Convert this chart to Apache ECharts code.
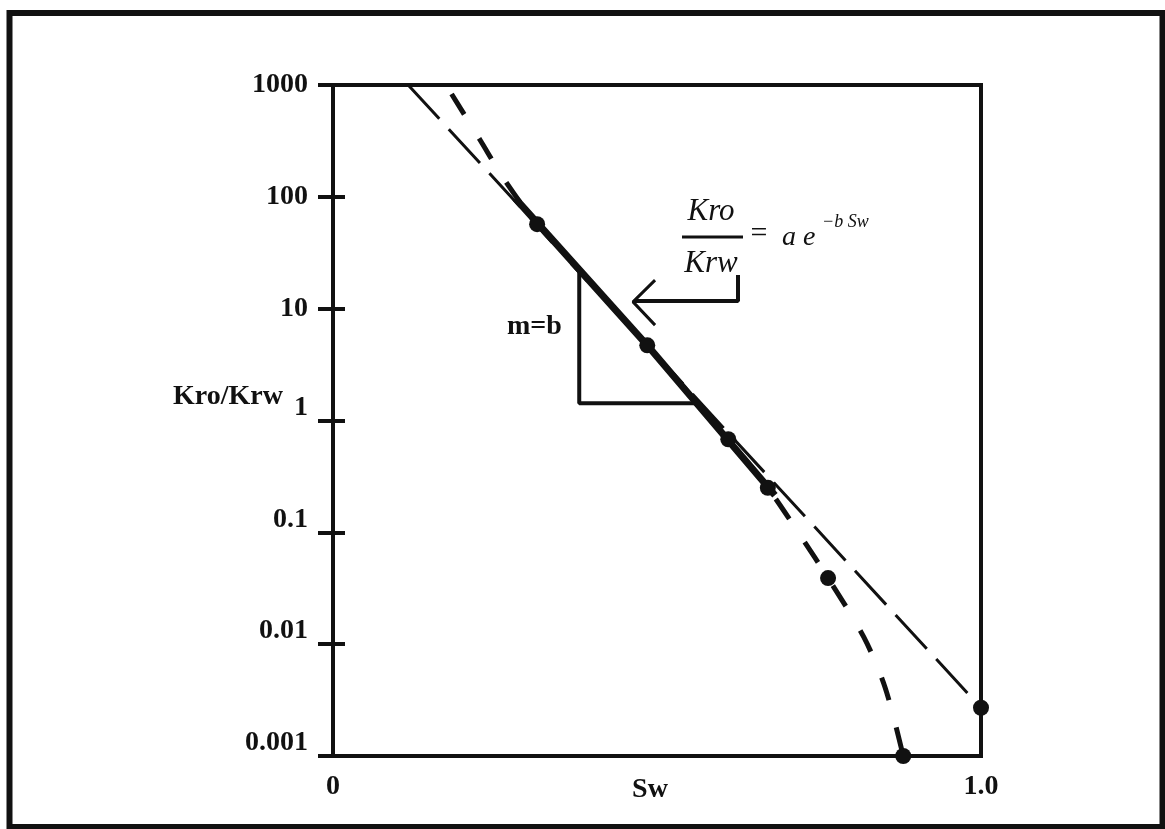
<!DOCTYPE html>
<html>
<head>
<meta charset="utf-8">
<script src="https://cdn.jsdelivr.net/npm/echarts@6/dist/echarts.min.js"></script>
<style>
html,body{margin:0;padding:0;background:#fff;}
#chart{width:1165px;height:829px;}
</style>
</head>
<body>
<div id="chart"></div>
<script>
// ---- data ----
var yTickLabels = ['0.001', '0.01', '0.1', '1', '10', '100', '1000'];
var xTickLabels = ['0', '1.0'];
// measured points (Sw, Kro/Krw)
var measuredSw  = [0.315, 0.485, 0.610, 0.671, 0.764, 0.880, 1.0];
var measuredK   = [57, 4.7, 0.68, 0.25, 0.039, 0.001, 0.0027];
// straight exponential fit (dashed)
var fitSw = [0.116, 1.0];
var fitK  = [1000, 0.0027];
// solid segment of the fit through the middle points
var solidSw = [0.281, 0.485, 0.682];
var solidK  = [97.5, 4.7, 0.215];
// curved trend of the data (dashed)
var curveSw = [0.183, 0.227, 0.265, 0.315, 0.485, 0.610, 0.671, 0.721, 0.764, 0.819, 0.852, 0.880];
var curveK  = [830, 322, 141, 57, 4.7, 0.68, 0.25, 0.094, 0.039, 0.0116, 0.0041, 0.001];
// slope triangle (m = b)
var triSw = [0.380, 0.380, 0.562];
var triK  = [22.1, 1.43, 1.43];
// arrow pointing at the fit line
var arrowSw = [0.625, 0.625, 0.466];
var arrowK  = [20, 11.7, 11.7];
var headSw  = [0.497, 0.463, 0.497];
var headK   = [18, 11.5, 7.13];

function zip(a, b) { return a.map(function (v, i) { return [v, b[i]]; }); }

var INK = '#111';
var SERIF = '"Liberation Serif", "DejaVu Serif", serif';

var chart = echarts.init(document.getElementById('chart'), null, {renderer: 'canvas'});

function yLabel(v) {
  var e = Math.round(Math.log(v) / Math.LN10);
  var s = yTickLabels[e + 3];
  return (e <= 0 ? '{up|' : '{n|') + s + '}';
}

var yCommon = {
  type: 'log', logBase: 10, min: 0.001, max: 1000,
  position: 'left',
  splitLine: {show: false},
  minorTick: {show: false}
};

var option = {
  animation: false,
  backgroundColor: '#fff',
  grid: {
    left: 333, right: 184, top: 85, bottom: 73,
    outerBoundsMode: 'none', containLabel: false,
    show: true, borderColor: INK, borderWidth: 4, backgroundColor: 'transparent'
  },
  xAxis: {
    type: 'value', min: 0, max: 1, interval: 1,
    name: 'Sw', nameLocation: 'middle', nameGap: 20, nameMoveOverlap: false,
    nameTextStyle: {fontFamily: SERIF, fontWeight: 'bold', fontSize: 28, color: INK, padding: [0, 14, 0, 0]},
    axisLine: {lineStyle: {color: INK, width: 4}},
    axisTick: {show: false},
    splitLine: {show: false},
    axisLabel: {
      margin: 17,
      fontFamily: SERIF, fontWeight: 'bold', fontSize: 28, color: INK,
      formatter: function (v) { return v === 0 ? xTickLabels[0] : xTickLabels[1]; }
    }
  },
  yAxis: [
    Object.assign({}, yCommon, {
      axisLine: {show: true, lineStyle: {color: INK, width: 4}},
      axisTick: {show: true, inside: false, length: 15, lineStyle: {color: INK, width: 4}},
      axisLabel: {
        margin: 25,
        formatter: yLabel,
        rich: {
          n:  {fontFamily: SERIF, fontWeight: 'bold', fontSize: 28, color: INK},
          up: {fontFamily: SERIF, fontWeight: 'bold', fontSize: 28, color: INK, padding: [0, 0, 26, 0]}
        }
      }
    }),
    Object.assign({}, yCommon, {
      axisLine: {show: false},
      axisTick: {show: true, inside: true, length: 12, lineStyle: {color: INK, width: 4}},
      axisLabel: {show: false}
    })
  ],
  series: [
    {
      name: 'fit', type: 'line', data: zip(fitSw, fitK), symbol: 'none',
      lineStyle: {color: INK, width: 3, type: [46, 14]}, z: 3
    },
    {
      name: 'curve', type: 'line', data: zip(curveSw, curveK), symbol: 'none', smooth: 0.3,
      lineStyle: {color: INK, width: 5, type: [24, 28]}, z: 3
    },
    {
      name: 'solid', type: 'line', data: zip(solidSw, solidK), symbol: 'none',
      lineStyle: {color: INK, width: 7}, z: 4
    },
    {
      name: 'triangle', type: 'line', data: zip(triSw, triK), symbol: 'none',
      lineStyle: {color: INK, width: 4}, z: 2
    },
    {
      name: 'arrow', type: 'line', data: zip(arrowSw, arrowK), symbol: 'none',
      lineStyle: {color: INK, width: 4}, z: 2
    },
    {
      name: 'arrowHead', type: 'line', data: zip(headSw, headK), symbol: 'none',
      lineStyle: {color: INK, width: 3}, z: 2
    },
    {
      name: 'measured', type: 'scatter', data: zip(measuredSw, measuredK),
      symbol: 'circle', symbolSize: 16, itemStyle: {color: INK, opacity: 1}, z: 5
    }
  ],
  graphic: [
    {type: 'rect', shape: {x: 9.5, y: 13, width: 1153, height: 814}, silent: true,
     style: {fill: 'none', stroke: INK, lineWidth: 6}},
    {type: 'text', left: 173, top: 383,
     style: {text: 'Kro/Krw', font: 'bold 28px ' + SERIF, fill: INK}},
    {type: 'text', left: 507, top: 313,
     style: {text: 'm=b', font: 'bold 28px ' + SERIF, fill: INK}},
    {type: 'text', x: 711, y: 212,
     style: {text: 'Kro', font: 'italic 31px ' + SERIF, fill: INK, align: 'center', verticalAlign: 'middle'}},
    {type: 'line', shape: {x1: 682, y1: 237, x2: 743, y2: 237}, style: {stroke: INK, lineWidth: 3}},
    {type: 'text', x: 711, y: 264,
     style: {text: 'Krw', font: 'italic 31px ' + SERIF, fill: INK, align: 'center', verticalAlign: 'middle'}},
    {type: 'text', x: 759, y: 234,
     style: {text: '=', font: '30px ' + SERIF, fill: INK, align: 'center', verticalAlign: 'middle'}},
    {type: 'text', x: 782, y: 238,
     style: {text: 'a e', font: 'italic 28px ' + SERIF, fill: INK, align: 'left', verticalAlign: 'middle'}},
    {type: 'text', x: 822, y: 222,
     style: {text: '\u2212b Sw', font: 'italic 18px ' + SERIF, fill: INK, align: 'left', verticalAlign: 'middle'}}
  ]
};

chart.setOption(option);
</script>
</body>
</html>
